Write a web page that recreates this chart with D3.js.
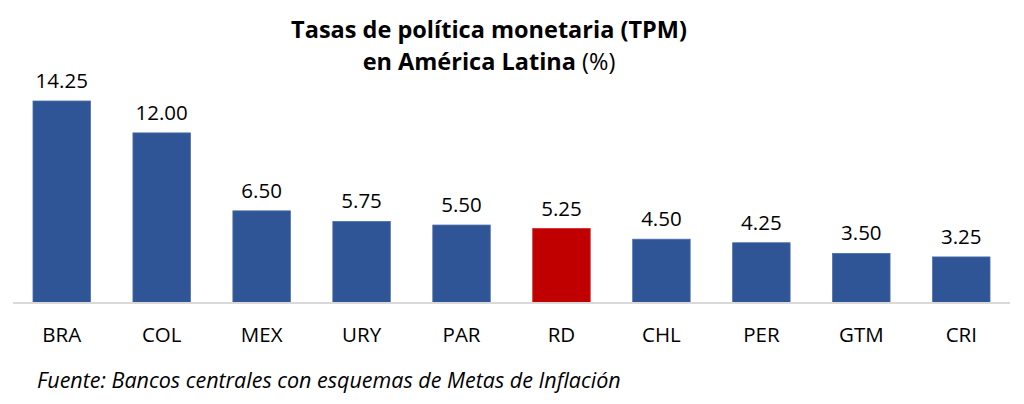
<!DOCTYPE html>
<html lang="es">
<head>
<meta charset="utf-8"/>
<script src="https://d3js.org/d3.v7.min.js"></script>
<style>
  body { margin: 0; background: #fff; }
  text { font-family: "Open Sans", "Noto Sans", sans-serif; fill: #000; }
</style>
</head>
<body>
<svg id="chart"></svg>
<script>
  const width = 1024;
  const height = 404;

  // datos
  const countries = ["BRA", "COL", "MEX", "URY", "PAR", "RD", "CHL", "PER", "GTM", "CRI"];
  const rates = [14.25, 12.00, 6.50, 5.75, 5.50, 5.25, 4.50, 4.25, 3.50, 3.25];
  const highlight = "RD";

  const data = countries.map((c, i) => ({country: c, value: rates[i]}));

  const svg = d3.select("#chart")
    .attr("width", width)
    .attr("height", height);

  const baseY = 303;
  const x = d3.scaleBand()
    .domain(countries)
    .range([13, 1010])
    .paddingInner(0.425)
    .paddingOuter(0.2);

  const y = d3.scaleLinear()
    .domain([0, 14.25])
    .range([baseY, 101]);

  // titulo
  svg.append("text")
    .attr("x", 489)
    .attr("y", 38)
    .attr("text-anchor", "middle")
    .style("font-size", "23.5px")
    .style("font-weight", "bold")
    .text("Tasas de política monetaria (TPM)");

  const t2 = svg.append("text")
    .attr("x", 489)
    .attr("y", 70)
    .attr("text-anchor", "middle")
    .style("font-size", "23.5px");
  t2.append("tspan").style("font-weight", "bold").text("en América Latina ");
  t2.append("tspan").text("(%)");

  // barras
  svg.append("g")
    .selectAll("rect")
    .data(data)
    .join("rect")
    .attr("x", d => x(d.country))
    .attr("y", d => y(d.value))
    .attr("width", x.bandwidth())
    .attr("height", d => baseY - y(d.value))
    .attr("fill", d => d.country === highlight ? "#C00000" : "#2F5597")
    .attr("stroke", d => d.country === highlight ? "#d42020" : "#4a6eaa")
    .attr("stroke-width", 0.8);

  // etiquetas de valor
  svg.append("g")
    .selectAll("text")
    .data(data)
    .join("text")
    .attr("x", d => x(d.country) + x.bandwidth() / 2)
    .attr("y", d => y(d.value) - 13)
    .attr("text-anchor", "middle")
    .style("font-size", "20.5px")
    .text(d => d3.format(".2f")(d.value));

  // eje
  const axis = svg.append("g")
    .attr("transform", "translate(0," + baseY + ")")
    .call(d3.axisBottom(x).tickSize(0).tickPadding(24));
  axis.select(".domain").attr("stroke", "#d9d9d9").attr("stroke-width", 2)
    .attr("d", "M13,0H1010");
  axis.selectAll(".tick text")
    .style("font-family", "'Open Sans', sans-serif")
    .style("font-size", "20.5px")
    .attr("fill", "#000");

  // fuente
  svg.append("text")
    .attr("x", 37)
    .attr("y", 388)
    .style("font-size", "21.5px")
    .style("font-style", "italic")
    .text("Fuente: Bancos centrales con esquemas de Metas de Inflación");
</script>
</body>
</html>
